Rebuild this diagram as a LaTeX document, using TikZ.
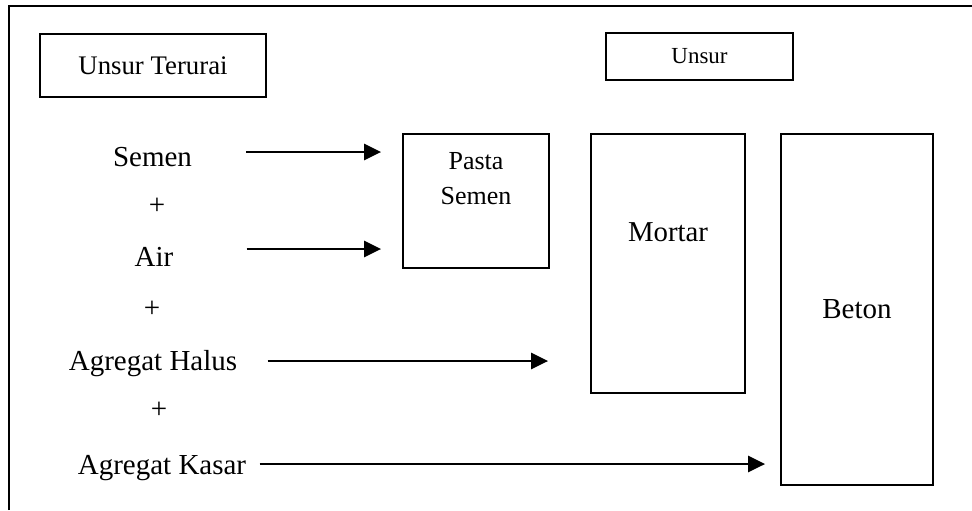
\documentclass[tikz,border=0pt]{standalone}
\usepackage{fontspec}
\setmainfont{Liberation Serif}
\usetikzlibrary{arrows.meta}

\begin{document}
\begin{tikzpicture}[x=0.5pt,y=-0.5pt,>={Triangle[length=8.5pt,width=8pt]},
  kotak/.style={draw,line width=0.9pt,inner sep=0pt},
  bahan/.style={inner sep=0pt,anchor=base,font=\fontsize{14.5}{17}\selectfont},
  panah/.style={->,line width=1.25pt}]
\useasboundingbox (0,0) rectangle (972,510);
\draw[line width=1pt] (9,510) -- (9,6) -- (972,6);

% judul
\node[kotak,minimum width=113pt,minimum height=31.5pt,font=\fontsize{13.4}{16}\selectfont] (terurai) at (153,65.5) {Unsur Terurai};
\node[kotak,minimum width=93.5pt,minimum height=23.5pt,font=\fontsize{11.5}{14}\selectfont] (unsur) at (699.5,56.5) {Unsur};

% unsur terurai
\node[bahan] (semen) at (152.5,166) {Semen};
\node[bahan] (plus1) at (157,214) {+};
\node[bahan] (air) at (154,266) {Air};
\node[bahan] (plus2) at (152,317) {+};
\node[bahan] (halus) at (153,370) {Agregat Halus};
\node[bahan] (plus3) at (159,418) {+};
\node[bahan] (kasar) at (162,474) {Agregat Kasar};

% unsur
\node[kotak,minimum width=73pt,minimum height=67pt] (pasta) at (476,201) {};
\node[align=center,inner sep=0pt,font=\fontsize{13}{17.5}\selectfont] (pastalbl) at ([yshift=-22.75pt]pasta.north) {Pasta\\Semen};
\node[kotak,minimum width=77pt,minimum height=129.5pt] (mortar) at (668,263.5) {};
\node[inner sep=0pt,font=\fontsize{14.4}{17}\selectfont] (mortarlbl) at ([yshift=-49.5pt]mortar.north) {Mortar};
\node[kotak,minimum width=76pt,minimum height=175.5pt,font=\fontsize{14.5}{17}\selectfont] (beton) at (857,309.5) {Beton};

% panah
\draw[panah,shorten >=10.5pt] ([xshift=27pt,yshift=7pt]semen.base east) -- ([yshift=7pt]semen.base east -| pasta.west);
\draw[panah,shorten >=10.5pt] ([xshift=36.5pt,yshift=8.5pt]air.base east) -- ([yshift=8.5pt]air.base east -| pasta.west);
\draw[panah,shorten >=21pt] ([xshift=15pt,yshift=4.5pt]halus.base east) -- ([yshift=4.5pt]halus.base east -| mortar.west);
\draw[panah,shorten >=7.5pt] ([xshift=6.5pt,yshift=5pt]kasar.base east) -- ([yshift=5pt]kasar.base east -| beton.west);
\end{tikzpicture}
\end{document}
